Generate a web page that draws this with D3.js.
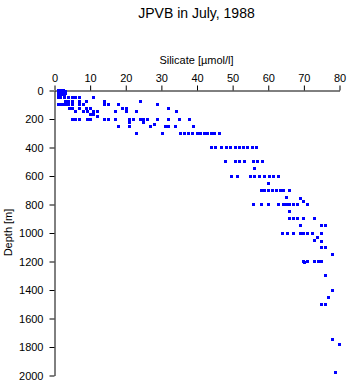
<!DOCTYPE html>
<html>
<head>
<meta charset="utf-8">
<script src="https://cdn.jsdelivr.net/npm/d3@7/dist/d3.min.js"></script>
<style>
  html, body { margin: 0; padding: 0; background: #fff; }
  svg { display: block; }
  text { font-family: "Liberation Sans", Arial, Helvetica, sans-serif; fill: #000; }
</style>
</head>
<body>
<svg id="chart" width="348" height="384"></svg>
<script>
// ---- data ----
const title = "JPVB in July, 1988";
const xLabel = "Silicate [µmol/l]";
const yLabel = "Depth [m]";
const xTicks = [0, 10, 20, 30, 40, 50, 60, 70, 80];
const yTicks = [0, 200, 400, 600, 800, 1000, 1200, 1400, 1600, 1800, 2000];

const depth = [
  0, 0, 0, 0,
  10, 10, 10, 10,
  20, 20, 20, 20,
  30, 30, 30,
  50, 50, 50, 50, 50, 50, 50, 50,
  75, 75, 75, 75, 75, 75, 75,
  100, 100, 100, 100, 100, 100, 100, 100, 100, 100, 100, 100,
  125, 125, 125, 125, 125, 125, 125, 125,
  150, 150, 150, 150, 150, 150, 150, 150, 150,
  170, 170, 185,
  200, 200, 200, 200, 200, 200, 200, 200, 200, 200, 200, 200, 200, 200, 200, 200, 200,
  225, 225, 240,
  250, 250, 250, 250, 250, 250, 250,
  300, 300, 300, 300, 300, 300, 300, 300, 300, 300, 300, 300, 300,
  400, 400, 400, 400, 400, 400, 400, 400, 400, 400, 400,
  500, 500, 500, 500, 500, 500, 500,
  550,
  600, 600, 600, 600, 600, 600, 600, 600, 600,
  650,
  700, 700, 700, 700, 700, 700, 700, 700,
  750, 760, 780,
  800, 800, 800, 800, 800, 800, 800, 800, 800, 800,
  850,
  900, 900, 900, 900, 900,
  950, 950, 950,
  1000, 1000, 1000, 1000, 1000, 1000, 1000, 1000,
  1030, 1050, 1060,
  1100, 1100,
  1150,
  1200, 1200, 1200, 1200, 1200, 1210,
  1300, 1400, 1450,
  1500, 1500,
  1750, 1780, 1980
];

const silicate = [
  1.0, 1.5, 2.0, 2.5,
  1.0, 1.5, 2.2, 3.0,
  1.0, 1.8, 2.5, 3.2,
  1.2, 2.0, 2.8,
  1.0, 1.7, 2.8, 4.0, 5.0, 5.9, 7.1, 11.0,
  3.1, 4.0, 5.0, 7.1, 9.0, 14.1, 24.1,
  1.0, 1.6, 2.4, 3.1, 4.0, 5.1, 7.1, 8.2, 14.1, 15.2, 18.0, 28.8,
  4.3, 5.0, 7.1, 9.0, 10.1, 19.0, 20.2, 32.1,
  5.9, 8.2, 9.2, 10.9, 12.2, 17.1, 20.2, 23.0, 34.2,
  10.1, 11.0, 12.2,
  5.0, 5.9, 7.1, 9.2, 10.1, 14.1, 15.2, 17.1, 21.1, 22.1, 24.1, 25.1, 26.2, 29.0, 32.1, 35.2, 38.0,
  21.1, 25.1, 28.1,
  18.0, 21.1, 26.9, 31.2, 32.1, 34.0, 39.1,
  23.0, 30.2, 35.4, 36.5, 37.5, 38.7, 40.0, 41.0, 42.0, 43.0, 44.0, 45.0, 46.2,
  44.0, 45.2, 47.0, 48.3, 49.5, 50.7, 51.8, 53.0, 54.2, 55.5, 56.6,
  48.0, 50.8, 52.0, 53.3, 55.8, 57.0, 58.5,
  56.0,
  49.8, 51.3, 54.9, 56.2, 57.5, 59.0, 60.3, 61.5, 63.0,
  60.0,
  58.0, 59.0, 60.2, 61.2, 62.3, 63.3, 64.3, 66.0,
  65.0, 69.0, 70.0,
  55.9, 58.1, 60.0, 63.0, 64.2, 65.1, 66.1, 67.0, 68.1, 71.1,
  66.0,
  66.0, 67.0, 68.1, 70.0, 73.1,
  69.0, 75.0, 76.1,
  64.0, 65.3, 67.0, 69.0, 70.0, 71.0, 72.3, 75.0,
  73.9, 73.1, 75.0,
  76.1, 75.0,
  77.9,
  70.0, 71.1, 73.1, 74.0, 75.0, 70.1,
  76.1, 77.9, 77.0,
  75.0, 76.1,
  77.9, 80.1, 79.0
];

// ---- layout ----
const svg = d3.select("#chart");
const mLeft = 54, mRight = 339, mTop = 90, mBottom = 375;

const x = d3.scaleLinear().domain([0, 80]).range([mLeft, mRight]);
const y = d3.scaleLinear().domain([0, 2000]).range([mTop, mBottom]);

// title
svg.append("text")
  .attr("x", (mLeft + mRight) / 2)
  .attr("y", 18)
  .attr("text-anchor", "middle")
  .style("font-size", "14px")
  .text(title);

// x axis (top)
const xAxis = d3.axisTop(x).tickValues(xTicks).tickFormat(d3.format("d"))
  .tickSizeInner(5).tickSizeOuter(0).tickPadding(4);
const gx = svg.append("g").attr("transform", `translate(0.5,${mTop + 0.5})`).call(xAxis);
gx.selectAll("text").style("font-size", "11px").attr("fill", "#000");
gx.selectAll("line, path").attr("stroke", "#000");

// y axis (left)
const yAxis = d3.axisLeft(y).tickValues(yTicks).tickFormat(d3.format("d"))
  .tickSizeInner(5).tickSizeOuter(0).tickPadding(6);
const gy = svg.append("g").attr("transform", `translate(${mLeft + 0.5},0.5)`).call(yAxis);
gy.selectAll("text").style("font-size", "11px").attr("fill", "#000");
gy.selectAll("line, path").attr("stroke", "#000");

// axis titles
svg.append("text")
  .attr("x", (mLeft + mRight) / 2)
  .attr("y", 64)
  .attr("text-anchor", "middle")
  .style("font-size", "11px")
  .text(xLabel);

svg.append("text")
  .attr("transform", `translate(12,${(mTop + mBottom) / 2}) rotate(-90)`)
  .attr("text-anchor", "middle")
  .style("font-size", "11px")
  .text(yLabel);

// points
const pts = depth.map((d, i) => ({ d, s: silicate[i] }));
svg.append("g").selectAll("rect").data(pts).enter().append("rect")
  .attr("x", p => Math.round(x(p.s)) - 1)
  .attr("y", p => Math.round(y(p.d)) - 1)
  .attr("width", 3)
  .attr("height", 3)
  .attr("fill", "#0000ff")
  .attr("shape-rendering", "crispEdges");
</script>
</body>
</html>
